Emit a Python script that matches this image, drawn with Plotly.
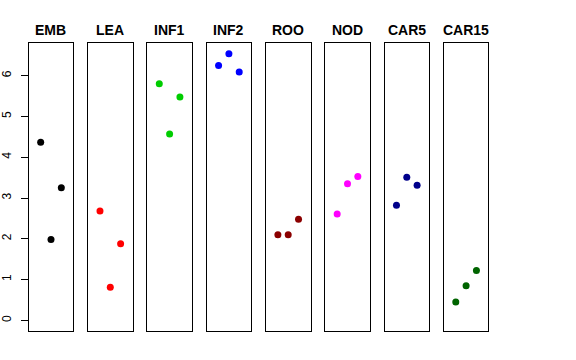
import plotly.graph_objects as go

categories = ["EMB", "LEA", "INF1", "INF2", "ROO", "NOD", "CAR5", "CAR15"]
emb = [4.37, 1.98, 3.25]
lea = [2.68, 0.81, 1.88]
inf1 = [5.80, 4.57, 5.48]
inf2 = [6.25, 6.54, 6.09]
roo = [2.10, 2.10, 2.48]
nod = [2.61, 3.35, 3.53]
car5 = [2.82, 3.51, 3.31]
car15 = [0.45, 0.85, 1.22]
series = [emb, lea, inf1, inf2, roo, nod, car5, car15]
colors = ["#000000", "#FF0000", "#00CD00", "#0000FF", "#8B0000", "#FF00FF", "#00008B", "#006400"]
replicates = [1, 2, 3]
y_ticks = [0, 1, 2, 3, 4, 5, 6]

W, H = 576, 360
left0, pw, step = 28.7, 44.6, 59.3
ytop, ybot = 43, 331
ymax = max(max(s) for s in series)
ypad = 0.04 * ymax
yrange = [-ypad, ymax + ypad]

fig = go.Figure()
layout = dict(
    width=W, height=H,
    margin=dict(l=0, r=0, t=0, b=0, autoexpand=False),
    paper_bgcolor="white", plot_bgcolor="white",
    showlegend=False,
    font=dict(family="Liberation Sans, Arial, sans-serif", color="black"),
)
annotations = []
for i, (cat, vals, col) in enumerate(zip(categories, series, colors)):
    sfx = "" if i == 0 else str(i + 1)
    fig.add_trace(go.Scatter(
        x=replicates, y=vals, mode="markers",
        marker=dict(color=col, size=7),
        xaxis="x" + sfx, yaxis="y" + sfx,
    ))
    x0 = (left0 + step * i) / W
    x1 = (left0 + step * i + pw) / W
    layout["xaxis" + sfx] = dict(
        domain=[x0, x1], range=[-0.16, 4.16], anchor="y" + sfx, automargin=False,
        showgrid=False, zeroline=False, showticklabels=False, ticks="",
        showline=True, mirror=True, linecolor="black", linewidth=1,
    )
    ya = dict(
        domain=[(H - ybot) / H, (H - ytop) / H], range=yrange, anchor="x" + sfx,
        automargin=False, showgrid=False, zeroline=False,
        showline=True, mirror=True, linecolor="black", linewidth=1,
    )
    if i == 0:
        ya.update(tickmode="array", tickvals=y_ticks, ticktext=[str(t) for t in y_ticks],
                  ticks="outside", ticklen=7, tickcolor="black", tickwidth=1,
                  tickangle=-90, tickfont=dict(size=12, color="black"),
                  ticklabelstandoff=5)
    else:
        ya.update(showticklabels=False, ticks="")
    layout["yaxis" + sfx] = ya
    annotations.append(dict(
        text="<b>%s</b>" % cat, x=(x0 + x1) / 2, y=(H - 29.7) / H,
        xref="paper", yref="paper", xanchor="center", yanchor="middle",
        showarrow=False, font=dict(size=14, color="black"),
    ))
layout["annotations"] = annotations
fig.update_layout(**layout)
fig.write_html("out.html", config={"displayModeBar": False},
               post_script="document.body.style.margin='0';")
